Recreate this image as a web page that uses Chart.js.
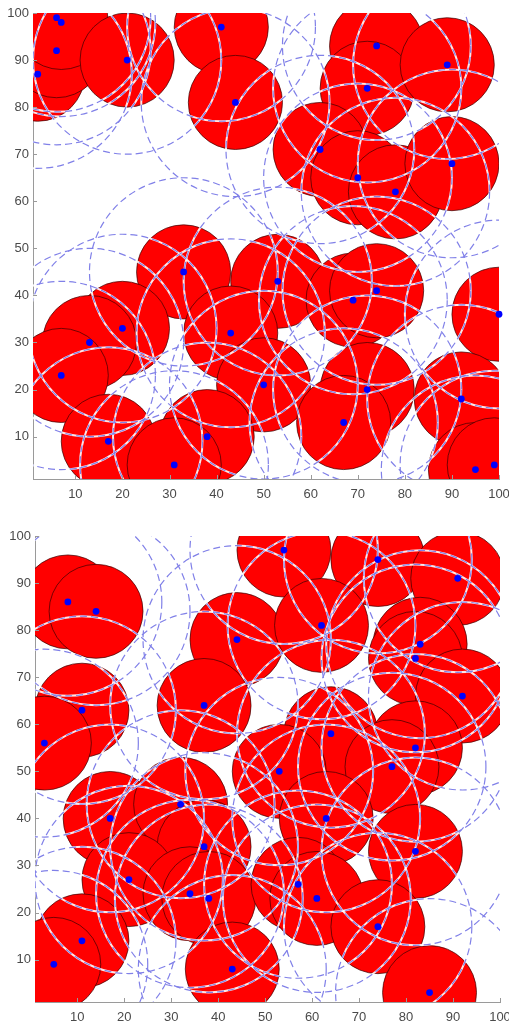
<!DOCTYPE html>
<html>
<head>
<meta charset="utf-8">
<script src="https://cdn.jsdelivr.net/npm/chart.js@4.4.1/dist/chart.umd.min.js"></script>
<style>
    body { margin: 0; background: #fff; }
    .panel { position: absolute; left: 0; }
</style>
</head>
<body>
<div class="panel" style="top:0"><canvas id="topChart" width="509" height="512"></canvas></div>
<div class="panel" style="top:512px"><canvas id="bottomChart" width="509" height="513"></canvas></div>
<script>
// node positions, upper plot
const topX = [2, 6, 6, 7, 21, 41, 44, 74, 72, 89, 62, 70, 78, 90, 33, 53, 69, 74, 100, 20, 13, 43, 7, 50, 72, 92, 67, 17, 38, 31, 95, 99];
const topY = [87, 92, 99, 98, 90, 97, 81, 93, 84, 89, 71, 65, 62, 68, 45, 43, 39, 41, 36, 33, 30, 32, 23, 21, 20, 18, 13, 9, 10, 4, 3, 4];

// node positions, lower plot
const bottomX = [8, 14, 11, 3, 44, 37, 54, 74, 91, 62, 83, 82, 92, 64, 82, 77, 53, 17, 32, 37, 21, 34, 38, 11, 5, 43, 63, 82, 57, 61, 74, 85];
const bottomY = [86, 84, 63, 56, 78, 64, 97, 95, 91, 81, 77, 74, 66, 58, 55, 51, 50, 40, 43, 34, 27, 24, 23, 14, 9, 8, 40, 33, 26, 23, 17, 3];

const tickValues = [10, 20, 30, 40, 50, 60, 70, 80, 90, 100];
const axisMin = 1;
const axisMax = 100;

// sensing radius and communication radius, in data units
const SENSE_R = 10;
const COMM_R = 20;

const AXIS_COLOR = '#9a9a9a';
const LABEL_FONT = { family: '"Liberation Sans", Arial, sans-serif', size: 13 };

function unitsToPx(chart, r) {
    const s = chart.scales.x;
    return Math.abs(s.getPixelForValue(r) - s.getPixelForValue(0));
}

// point elements have no borderDash, so set it on the context per dataset
const dashPlugin = {
    id: 'dashPlugin',
    beforeDatasetDraw(chart, args) {
        const ds = chart.data.datasets[args.index];
        if (ds.dash) chart.ctx.setLineDash(ds.dash);
    },
    afterDatasetDraw(chart) {
        chart.ctx.setLineDash([]);
    }
};

// matlab style ticks pointing into the plot
const inwardTicks = {
    id: 'inwardTicks',
    afterDraw(chart) {
        const { ctx, chartArea: a, scales: { x, y } } = chart;
        ctx.save();
        ctx.strokeStyle = AXIS_COLOR;
        ctx.lineWidth = 1;
        ctx.beginPath();
        x.ticks.forEach(t => {
            const px = Math.round(x.getPixelForValue(t.value)) + 0.5;
            ctx.moveTo(px, a.bottom);
            ctx.lineTo(px, a.bottom - 4);
        });
        y.ticks.forEach(t => {
            const py = Math.round(y.getPixelForValue(t.value)) + 0.5;
            ctx.moveTo(a.left, py);
            ctx.lineTo(a.left + 4, py);
        });
        ctx.stroke();
        ctx.restore();
    }
};

function buildChart(canvasId, xs, ys, box) {
    const pts = xs.map((x, i) => ({ x: x, y: ys[i] }));
    const ctx = document.getElementById(canvasId).getContext('2d');

    return new Chart(ctx, {
        type: 'scatter',
        data: {
            datasets: [
                {
                    data: pts, order: 4, clip: 0,
                    pointRadius: c => unitsToPx(c.chart, SENSE_R),
                    pointBackgroundColor: '#ff0000',
                    pointBorderColor: 'rgba(50,0,0,0.85)',
                    pointBorderWidth: 0.8
                },
                {
                    data: pts, order: 3, clip: 0,
                    pointRadius: c => unitsToPx(c.chart, COMM_R),
                    pointBackgroundColor: 'rgba(0,0,0,0)',
                    pointBorderColor: 'rgba(255,255,255,0.9)',
                    pointBorderWidth: 2
                },
                {
                    data: pts, order: 2, clip: 0, dash: [7, 4],
                    pointRadius: c => unitsToPx(c.chart, COMM_R),
                    pointBackgroundColor: 'rgba(0,0,0,0)',
                    pointBorderColor: 'rgb(128,128,232)',
                    pointBorderWidth: 1.2
                },
                {
                    data: pts, order: 1, clip: false,
                    pointRadius: 3.4,
                    pointBackgroundColor: '#0000ff',
                    pointBorderWidth: 0
                }
            ]
        },
        options: {
            responsive: false,
            animation: false,
            events: [],
            layout: { padding: { left: 0, right: box.right, top: box.top, bottom: 0 } },
            plugins: {
                legend: { display: false },
                tooltip: { enabled: false }
            },
            scales: {
                x: {
                    type: 'linear', min: axisMin, max: axisMax, z: 1,
                    afterBuildTicks: s => { s.ticks = tickValues.map(v => ({ value: v })); },
                    afterFit: s => { s.height = box.xAxisH; s.paddingLeft = 0; s.paddingRight = 0; },
                    grid: { display: false, drawTicks: false },
                    border: { display: true, color: AXIS_COLOR, width: 1 },
                    ticks: { color: '#4a4a4a', font: LABEL_FONT, padding: 8, maxRotation: 0, autoSkip: false }
                },
                y: {
                    type: 'linear', min: axisMin, max: axisMax, z: 1,
                    afterBuildTicks: s => { s.ticks = tickValues.map(v => ({ value: v })); },
                    afterFit: s => { s.width = box.yAxisW; s.paddingTop = 0; s.paddingBottom = 0; },
                    grid: { display: false, drawTicks: false },
                    border: { display: true, color: AXIS_COLOR, width: 1 },
                    ticks: { color: '#4a4a4a', font: LABEL_FONT, padding: 4, autoSkip: false }
                }
            }
        },
        plugins: [dashPlugin, inwardTicks]
    });
}

buildChart('topChart', topX, topY, { right: 10, top: 13, xAxisH: 33, yAxisW: 33 });
buildChart('bottomChart', bottomX, bottomY, { right: 9, top: 24, xAxisH: 23, yAxisW: 35 });
</script>
</body>
</html>
